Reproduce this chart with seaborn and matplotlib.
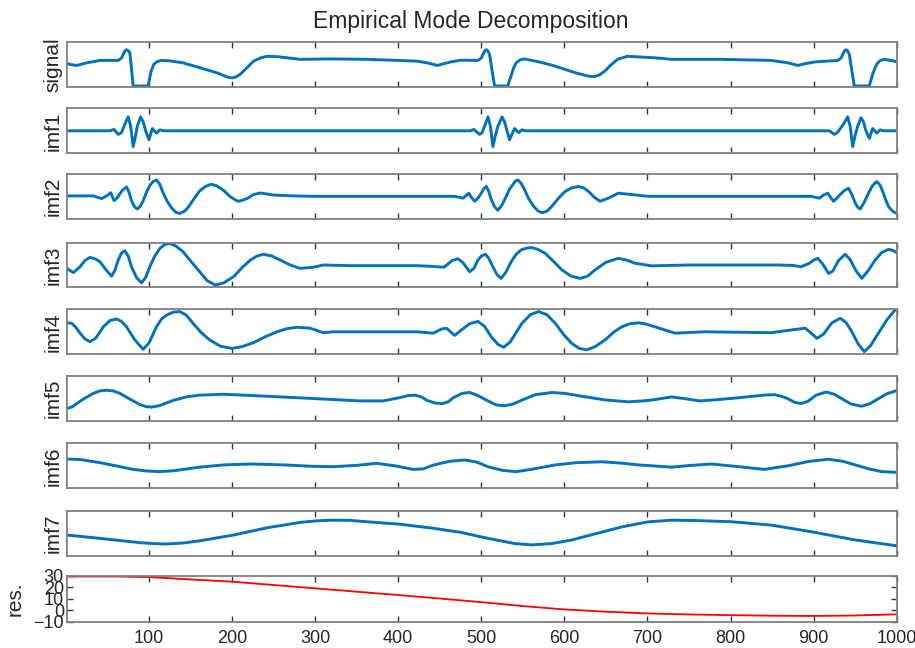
import matplotlib
matplotlib.use("Agg")
import matplotlib.pyplot as plt
import seaborn as sns

# ---------------- data ----------------
signal_pts = [(1, 0.52), (6, 0.49), (13, 0.47), (19, 0.5), (25, 0.53), (41, 0.585), (63, 0.585), (67, 0.64),
              (71, 0.8), (73, 0.83), (75, 0.81), (77, 0.76), (79, 0.4), (81, 0.0), (99, 0.0), (101, 0.2),
              (103, 0.36), (106, 0.5), (110, 0.56), (115, 0.585), (125, 0.575), (141, 0.53), (161, 0.42),
              (182, 0.30), (195, 0.2), (200, 0.185), (205, 0.21), (210, 0.27), (218, 0.42), (226, 0.57),
              (234, 0.64), (242, 0.68), (255, 0.67), (282, 0.61), (322, 0.62), (362, 0.61), (422, 0.57),
              (435, 0.53), (447, 0.47), (455, 0.51), (463, 0.55), (475, 0.59), (496, 0.585), (500, 0.64),
              (504, 0.8), (506, 0.83), (508, 0.8), (510, 0.72), (513, 0.35), (516, 0.0), (532, 0.0),
              (534, 0.13), (536, 0.24), (539, 0.42), (542, 0.53), (547, 0.6), (552, 0.62), (570, 0.55),
              (588, 0.46), (612, 0.31), (630, 0.22), (636, 0.215), (642, 0.25), (648, 0.33), (656, 0.48),
              (664, 0.61), (676, 0.68), (709, 0.645), (729, 0.61), (789, 0.61), (849, 0.585), (869, 0.53),
              (881, 0.47), (890, 0.51), (901, 0.55), (929, 0.585), (933, 0.64), (937, 0.8), (939, 0.83),
              (941, 0.8), (943, 0.72), (946, 0.35), (949, 0.0), (967, 0.0), (969, 0.13), (971, 0.27),
              (974, 0.42), (977, 0.53), (981, 0.59), (985, 0.61), (997, 0.57), (1000, 0.555)]

imf1_pts = [(1, 0.5), (53, 0.5), (58, 0.53), (63, 0.42), (67, 0.46), (71, 0.65), (75, 0.81), (78, 0.6),
            (81, 0.15), (84, 0.4), (86, 0.6), (90, 0.81), (93, 0.7), (96, 0.5), (100, 0.3), (104, 0.55),
            (109, 0.45), (113, 0.52), (118, 0.5),
            (487, 0.5), (491, 0.53), (498, 0.42), (501, 0.46), (505, 0.65), (508, 0.81), (511, 0.6),
            (514, 0.15), (517, 0.4), (520, 0.6), (525, 0.81), (528, 0.7), (531, 0.5), (534, 0.3),
            (540, 0.55), (545, 0.46), (549, 0.52), (553, 0.5),
            (919, 0.5), (925, 0.42), (929, 0.47), (936, 0.65), (941, 0.81), (944, 0.6), (947, 0.15),
            (950, 0.4), (953, 0.6), (957, 0.79), (960, 0.7), (963, 0.5), (967, 0.33), (971, 0.55),
            (976, 0.45), (980, 0.52), (984, 0.5), (1000, 0.5)]

imf2_pts = [(1, 0.52), (33, 0.52), (43, 0.46), (49, 0.52), (54, 0.59), (58, 0.415), (62, 0.48), (65, 0.57),
            (69, 0.66), (73, 0.72), (76, 0.60), (79, 0.41), (83, 0.27), (86, 0.23), (89, 0.28), (93, 0.41),
            (97, 0.6), (101, 0.75), (105, 0.84), (109, 0.875), (113, 0.78), (117, 0.59), (122, 0.40),
            (127, 0.26), (132, 0.16), (137, 0.13), (142, 0.17), (147, 0.26), (154, 0.45), (161, 0.63),
            (168, 0.73), (175, 0.78), (182, 0.74), (190, 0.64), (198, 0.50), (207, 0.40), (212, 0.42),
            (218, 0.46), (226, 0.55), (234, 0.585), (250, 0.54), (274, 0.52), (300, 0.51), (468, 0.51),
            (478, 0.47), (485, 0.58), (488, 0.49), (492, 0.40), (496, 0.47), (500, 0.58), (503, 0.68),
            (506, 0.73), (509, 0.62), (512, 0.44), (516, 0.28), (520, 0.20), (525, 0.32), (530, 0.51),
            (534, 0.67), (538, 0.77), (541, 0.85), (544, 0.876), (548, 0.80), (552, 0.66), (557, 0.46),
            (563, 0.29), (568, 0.19), (573, 0.146), (579, 0.18), (585, 0.29), (593, 0.47), (601, 0.62),
            (609, 0.70), (617, 0.73), (623, 0.70), (629, 0.62), (636, 0.49), (643, 0.40), (653, 0.47),
            (665, 0.58), (681, 0.55), (701, 0.51), (897, 0.51), (907, 0.47), (912, 0.54), (917, 0.58),
            (920, 0.50), (924, 0.40), (928, 0.47), (932, 0.55), (937, 0.64), (942, 0.69), (946, 0.55),
            (950, 0.365), (953, 0.27), (956, 0.23), (961, 0.38), (966, 0.58), (971, 0.75), (976, 0.84),
            (980, 0.76), (984, 0.58), (987, 0.42), (990, 0.29), (994, 0.2), (998, 0.146), (1000, 0.14)]

imf3_pts = [(1, 0.425), (9, 0.33), (17, 0.46), (23, 0.60), (29, 0.67), (35, 0.64), (41, 0.575), (48, 0.40),
            (55, 0.25), (59, 0.38), (63, 0.61), (67, 0.77), (71, 0.82), (75, 0.70), (79, 0.46), (85, 0.22),
            (91, 0.10), (96, 0.22), (101, 0.46), (107, 0.70), (113, 0.87), (119, 0.96), (125, 0.985),
            (132, 0.93), (141, 0.80), (151, 0.57), (161, 0.35), (170, 0.15), (180, 0.05), (190, 0.10),
            (202, 0.24), (212, 0.44), (222, 0.61), (230, 0.70), (238, 0.74), (248, 0.70), (258, 0.61),
            (270, 0.50), (282, 0.425), (298, 0.45), (310, 0.50), (342, 0.485), (422, 0.485), (440, 0.47),
            (455, 0.45), (465, 0.60), (472, 0.64), (478, 0.55), (486, 0.35), (491, 0.42), (496, 0.61),
            (500, 0.70), (505, 0.74), (509, 0.65), (514, 0.46), (519, 0.28), (524, 0.20), (530, 0.35),
            (536, 0.575), (542, 0.74), (548, 0.84), (555, 0.88), (561, 0.89), (568, 0.85), (577, 0.76),
            (587, 0.58), (597, 0.39), (608, 0.25), (619, 0.20), (628, 0.25), (637, 0.39), (650, 0.56),
            (665, 0.65), (675, 0.61), (685, 0.54), (705, 0.48), (749, 0.50), (857, 0.50), (875, 0.49),
            (885, 0.46), (895, 0.54), (900, 0.61), (905, 0.65), (911, 0.52), (918, 0.31), (923, 0.36),
            (930, 0.60), (938, 0.74), (944, 0.62), (951, 0.37), (958, 0.20), (966, 0.38), (974, 0.61),
            (982, 0.78), (990, 0.85), (995, 0.83), (1000, 0.78)]

imf4_pts = [(1, 0.70), (7, 0.69), (12, 0.60), (17, 0.47), (23, 0.34), (29, 0.28), (36, 0.36), (45, 0.61),
            (53, 0.75), (61, 0.785), (67, 0.73), (73, 0.61), (83, 0.32), (93, 0.11), (100, 0.25), (109, 0.61),
            (115, 0.78), (121, 0.87), (129, 0.935), (137, 0.95), (145, 0.87), (153, 0.69), (163, 0.48),
            (173, 0.32), (186, 0.18), (200, 0.13), (212, 0.17), (226, 0.26), (240, 0.39), (254, 0.50),
            (266, 0.57), (278, 0.60), (294, 0.58), (310, 0.48), (322, 0.50), (422, 0.50), (442, 0.47),
            (452, 0.56), (458, 0.58), (468, 0.42), (476, 0.54), (486, 0.68), (496, 0.73), (504, 0.62),
            (512, 0.39), (520, 0.22), (527, 0.155), (535, 0.28), (549, 0.69), (559, 0.88), (569, 0.95),
            (579, 0.88), (589, 0.69), (599, 0.44), (609, 0.24), (618, 0.13), (627, 0.10), (637, 0.17),
            (649, 0.32), (660, 0.50), (669, 0.61), (679, 0.68), (689, 0.70), (699, 0.67), (709, 0.61),
            (733, 0.47), (769, 0.50), (849, 0.48), (873, 0.54), (890, 0.58), (897, 0.47), (904, 0.355),
            (912, 0.45), (922, 0.70), (932, 0.80), (939, 0.71), (946, 0.50), (954, 0.22), (961, 0.06),
            (968, 0.18), (978, 0.47), (988, 0.76), (998, 0.985), (1000, 1.0)]

imf5_pts = [(1, 0.265), (8, 0.31), (20, 0.47), (33, 0.61), (41, 0.665), (49, 0.68), (57, 0.665), (65, 0.61),
            (77, 0.48), (89, 0.36), (96, 0.315), (103, 0.30), (112, 0.33), (129, 0.45), (145, 0.53),
            (161, 0.57), (190, 0.59), (242, 0.545), (302, 0.49), (354, 0.44), (382, 0.44), (402, 0.515),
            (412, 0.56), (420, 0.57), (428, 0.53), (435, 0.45), (445, 0.39), (453, 0.38), (460, 0.42),
            (467, 0.52), (477, 0.61), (486, 0.63), (496, 0.56), (508, 0.44), (518, 0.35), (528, 0.33),
            (538, 0.37), (548, 0.45), (565, 0.58), (585, 0.63), (600, 0.61), (621, 0.545), (650, 0.46),
            (677, 0.42), (695, 0.44), (709, 0.47), (729, 0.53), (745, 0.49), (763, 0.44), (785, 0.47),
            (809, 0.51), (840, 0.57), (853, 0.58), (862, 0.54), (869, 0.49), (877, 0.41), (885, 0.38),
            (893, 0.43), (903, 0.57), (915, 0.64), (925, 0.59), (934, 0.49), (945, 0.37), (958, 0.32),
            (968, 0.38), (978, 0.49), (988, 0.6), (998, 0.66), (1000, 0.67)]

imf6_pts = [(1, 0.65), (17, 0.64), (41, 0.57), (60, 0.50), (81, 0.42), (97, 0.385), (113, 0.37), (130, 0.39),
            (161, 0.47), (190, 0.52), (222, 0.54), (262, 0.52), (295, 0.49), (322, 0.48), (350, 0.51),
            (374, 0.555), (396, 0.50), (418, 0.42), (430, 0.43), (443, 0.52), (462, 0.60), (480, 0.63),
            (495, 0.58), (508, 0.48), (525, 0.40), (542, 0.37), (560, 0.42), (589, 0.52), (615, 0.57),
            (645, 0.59), (668, 0.56), (689, 0.52), (729, 0.47), (753, 0.51), (777, 0.54), (810, 0.48),
            (841, 0.42), (869, 0.50), (895, 0.60), (918, 0.645), (935, 0.60), (950, 0.52), (967, 0.43),
            (982, 0.37), (1000, 0.355)]

imf7_pts = [(1, 0.46), (41, 0.385), (89, 0.29), (105, 0.27), (121, 0.26), (140, 0.28), (161, 0.33), (202, 0.46),
            (242, 0.62), (282, 0.74), (302, 0.775), (322, 0.79), (342, 0.785), (362, 0.755), (402, 0.70),
            (442, 0.61), (475, 0.52), (508, 0.385), (540, 0.27), (561, 0.24), (585, 0.27), (609, 0.35),
            (640, 0.50), (669, 0.64), (700, 0.75), (729, 0.79), (760, 0.78), (801, 0.755), (849, 0.68),
            (898, 0.53), (950, 0.35), (1000, 0.22)]

res_pts = [(1, 29.3), (60, 29.3), (100, 28.8), (141, 27.1), (200, 24.8), (300, 19.0), (400, 13.2), (475, 8.6),
           (500, 7.0), (550, 3.6), (599, 0.7), (650, -1.3), (699, -2.8), (750, -3.7), (799, -4.3),
           (850, -4.8), (900, -5.0), (950, -4.6), (1000, -3.6)]

panel_labels = ["signal", "imf1", "imf2", "imf3", "imf4", "imf5", "imf6", "imf7", "res."]
x_ticks = [100, 200, 300, 400, 500, 600, 700, 800, 900, 1000]
res_ticks = [-10, 0, 10, 20, 30]
title_text = "Empirical Mode Decomposition"

series = [signal_pts, imf1_pts, imf2_pts, imf3_pts, imf4_pts, imf5_pts, imf6_pts, imf7_pts, res_pts]

# ---------------- styling ----------------
sns.set_theme(style="white")
plt.rcParams["font.family"] = ["Liberation Sans", "DejaVu Sans"]
plt.rcParams["text.color"] = "#262626"
plt.rcParams["axes.labelcolor"] = "#262626"
plt.rcParams["xtick.color"] = "#262626"
plt.rcParams["ytick.color"] = "#262626"

BLUE = "#0072BD"
RED = "#FF0000"
EDGE = "#7f7f7f"

W, H = 915, 648
fig = plt.figure(figsize=(W / 100, H / 100), dpi=100)
fig.patch.set_facecolor("white")

panel_px = [(42.3, 87.3), (108.3, 153.3), (174.3, 219.3), (242.7, 287.3), (309.3, 354.3),
            (376.0, 420.5), (443.3, 488.3), (510.7, 555.7), (575.7, 621.7)]
left_px, right_px = 66.7, 896.7

axes = []
for i, ((top, bot), pts, lab) in enumerate(zip(panel_px, series, panel_labels)):
    xs = [p[0] for p in pts]
    ys = [p[1] for p in pts]
    ax = fig.add_axes([left_px / W, 1 - bot / H, (right_px - left_px) / W, (bot - top) / H])
    is_res = (i == len(panel_px) - 1)
    sns.lineplot(x=xs, y=ys, ax=ax, color=RED if is_res else BLUE,
                 linewidth=1.3 if is_res else 2.1, estimator=None, sort=False,
                 solid_joinstyle="round", solid_capstyle="round")
    ax.set_xlim(1, 1000)
    ax.set_xticks(x_ticks)
    if is_res:
        ax.set_ylim(-10, 30)
        ax.set_yticks(res_ticks)
        ax.tick_params(axis="y", direction="in", left=True, right=True, length=4,
                       width=1, color="#333333", labelsize=13, pad=2)
        ax.tick_params(axis="x", direction="in", top=True, bottom=True, length=4,
                       width=1, color="#333333", labelsize=13, pad=6, labelbottom=True)
        ax.set_ylabel(lab, fontsize=15, labelpad=6)
    else:
        if i == 0:
            ax.set_ylim(-0.03, 1.0)
        else:
            ax.set_ylim(0, 1)
        ax.set_yticks([])
        ax.tick_params(axis="x", direction="in", top=True, bottom=True, length=4,
                       width=1, color="#333333", labelbottom=False)
        ax.set_ylabel(lab, fontsize=15, labelpad=3)
    ax.set_xlabel("")
    for sp in ax.spines.values():
        sp.set_visible(True)
        sp.set_color(EDGE)
        sp.set_linewidth(1.3)
    ax.set_facecolor("white")
    axes.append(ax)

ttl = axes[0].set_title(title_text, fontsize=16.5, pad=10, color="#262626")
ttl.set_x(0.487)

fig.savefig("out.png", dpi=100, facecolor="white")
